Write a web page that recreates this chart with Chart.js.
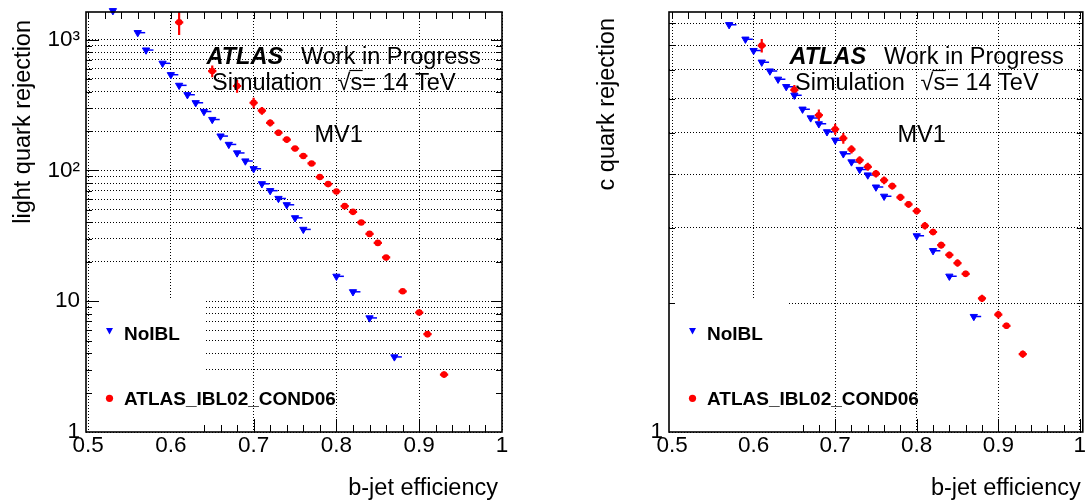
<!DOCTYPE html>
<html><head><meta charset="utf-8">
<script src="https://cdn.jsdelivr.net/npm/chart.js@4/dist/chart.umd.min.js"></script>
<style>
html,body{margin:0;padding:0;background:#fff;width:1088px;height:500px;overflow:hidden}
.p{position:absolute;top:0;width:544px;height:500px}
</style></head><body>
<div class="p" style="left:0"><canvas id="cL"></canvas></div>
<div class="p" style="left:544px"><canvas id="cR"></canvas></div>
<script>
// ---------------- data ----------------
const seriesNames = ['NoIBL', 'ATLAS_IBL02_COND06'];
const yTitles = ['light quark rejection', 'c quark rejection'];
const xTitle = 'b-jet efficiency';

// light-jet rejection, NoIBL
const effNoIBL_light = [0.53,0.56,0.57,0.59,0.60,0.61,0.62,0.63,0.64,0.65,0.66,0.67,0.68,0.69,0.70,0.71,0.72,0.73,0.74,0.75,0.76,0.80,0.82,0.84,0.87];
const rejNoIBL_light = [1663,1130,832,659,539,447,379,329,282,245,183,158,136,118,103,79,70,61,54.6,43.4,35.4,15.5,11.8,7.45,3.75];
// light-jet rejection, IBL
const effIBL = [0.61,0.65,0.68,0.70,0.71,0.72,0.73,0.74,0.75,0.76,0.77,0.78,0.79,0.80,0.81,0.82,0.83,0.84,0.85,0.86,0.88,0.90,0.91,0.93];
const rejIBL_light = [1356,575,442,329,286,231,194,172,147,129,113,89,78.6,69,53.3,48.2,40,32.7,27.9,21.6,11.9,8.2,5.6,2.75];
const errIBL_light = [270,60,50,30,20,14,11,9,7,6,5,4,3.5,3,2.4,2.1,1.8,1.5,1.2,1,0.5,0.4,0.3,0.15];
// c-jet rejection, NoIBL
const effNoIBL_c = [0.57,0.59,0.60,0.61,0.62,0.63,0.64,0.65,0.66,0.67,0.68,0.69,0.70,0.71,0.72,0.73,0.74,0.75,0.76,0.80,0.82,0.84,0.87];
const rejNoIBL_c = [8.93,8.26,7.77,7.30,6.96,6.66,6.40,6.11,5.67,5.41,5.24,5.02,4.80,4.46,4.27,4.10,3.98,3.73,3.55,2.87,2.65,2.31,1.86];
// c-jet rejection, IBL
const rejIBL_c = [7.98,6.29,5.49,5.09,4.85,4.57,4.31,4.16,4.01,3.87,3.75,3.53,3.40,3.28,3.03,2.93,2.73,2.59,2.48,2.34,2.05,1.88,1.77,1.52];
const errIBL_c = [0.29,0.17,0.17,0.15,0.14,0.10,0.09,0.09,0.08,0.08,0.07,0.07,0.06,0.06,0.06,0.05,0.05,0.05,0.05,0.04,0.04,0.04,0.03,0.03];

const xErrIBL = 0.005;      // half width of IBL efficiency bars
const xErrNoIBLHi = 0.009;  // NoIBL efficiency bar (right side)

// ticks
const xTickVals = [0.5,0.6,0.7,0.8,0.9,1.0];
const xTickLabels = ['0.5','0.6','0.7','0.8','0.9','1'];
const yLabelValsL = [1,10,100,1000];
const yLabelTextL = ['1','10','10\u00B2','10\u00B3'];
const yLabelValsR = [1];
const yLabelTextR = ['1'];

// ---------------- style ----------------
const FONT = '"Liberation Sans", Arial, Helvetica, sans-serif';
const BLUE = '#0000ff', RED = '#ff0000';

function logTicks(min, max){
  const out = [];
  for (let d = Math.floor(Math.log10(min)); d <= Math.ceil(Math.log10(max)); d++){
    for (let m = 1; m <= 9; m++){
      const v = +(m * Math.pow(10, d)).toPrecision(6);
      if (v >= min - 1e-9 && v <= max) out.push(v);
    }
  }
  return out;
}

const rootPlugin = {
  id: 'rootStyle',
  beforeDatasetsDraw(chart){
    const {ctx, chartArea:a, scales:{x, y}} = chart;
    ctx.save();
    ctx.beginPath(); ctx.rect(a.left, a.top, a.right - a.left, a.bottom - a.top); ctx.clip();
    chart.data.datasets.forEach(ds => {
      ctx.strokeStyle = ds.backgroundColor;
      ctx.lineWidth = ds.errWidth;
      ds.data.forEach((p, i) => {
        const px = x.getPixelForValue(p.x), py = y.getPixelForValue(p.y);
        ctx.beginPath();
        ctx.moveTo(x.getPixelForValue(p.x - ds.xErrLo), py);
        ctx.lineTo(x.getPixelForValue(p.x + ds.xErrHi), py);
        if (ds.yErr){
          const e = ds.yErr[i];
          ctx.moveTo(px, y.getPixelForValue(p.y + e));
          ctx.lineTo(px, y.getPixelForValue(Math.max(p.y - e, 1e-3)));
        }
        ctx.stroke();
      });
    });
    ctx.restore();
  },
  afterDatasetsDraw(chart, args, o){
    const {ctx, chartArea:a, scales:{x, y}} = chart;
    ctx.save();
    // legend box (white, hides grid)
    const boxL = a.left + 3, boxR = a.left + 118, boxT = 298;
    ctx.fillStyle = '#fff';
    ctx.fillRect(boxL, boxT, boxR - boxL, a.bottom - 1 - boxT);
    // frame
    ctx.strokeStyle = '#000'; ctx.lineWidth = 1.6;
    ctx.strokeRect(a.left, a.top, a.right - a.left, a.bottom - a.top);
    // y ticks (inside, both sides)
    ctx.lineWidth = 1;
    ctx.beginPath();
    y.ticks.forEach(t => {
      const py = Math.round(y.getPixelForValue(t.value)) + 0.5;
      const major = Math.abs(Math.log10(t.value) - Math.round(Math.log10(t.value))) < 1e-6;
      const lL = major ? 13 : 6, lR = major ? 11 : 6;
      if (py > a.bottom - 1 || py < a.top + 1) return;
      ctx.moveTo(a.left, py); ctx.lineTo(a.left + lL, py);
      ctx.moveTo(a.right, py); ctx.lineTo(a.right - lR, py);
    });
    // x ticks every 0.02, major each 0.1
    for (let k = 25; k <= 50; k++){
      const v = k * 0.02;
      const px = Math.round(x.getPixelForValue(v)) + 0.5;
      if (px < a.left + 1 || px > a.right - 1) continue;
      const major = k % 5 === 0;
      if (px > boxR){
        ctx.moveTo(px, a.bottom); ctx.lineTo(px, a.bottom - (major ? 13 : 7));
      }
      ctx.moveTo(px, a.top); ctx.lineTo(px, a.top + 7);
    }
    ctx.stroke();

    // ATLAS label
    ctx.fillStyle = '#000';
    ctx.textAlign = 'left'; ctx.textBaseline = 'alphabetic';
    ctx.font = 'italic bold 23.5px ' + FONT;
    ctx.fillText('ATLAS', a.left + 120.5, 63.5);
    ctx.font = '23.5px ' + FONT;
    ctx.fillText('Work in Progress', a.left + 215, 63.5);
    ctx.fillText('Simulation', a.left + 126, 90);
    const sx = a.left + 251.5;
    ctx.fillText('\u221As= 14 TeV', sx, 90);
    const w1 = ctx.measureText('\u221A').width, w2 = ctx.measureText('s').width;
    ctx.lineWidth = 1.2;
    ctx.beginPath(); ctx.moveTo(sx + w1 - 1, 70.5); ctx.lineTo(sx + w1 + w2 + 0.5, 70.5); ctx.stroke();
    ctx.fillText('MV1', a.left + 228.5, 142);

    // axis titles
    ctx.textAlign = 'right';
    ctx.fillText(o.xTitle, o.xTitleX, 495);
    ctx.save();
    ctx.translate(o.yTitleX, o.yTitleY);
    ctx.rotate(-Math.PI / 2);
    ctx.fillText(o.yTitle, 0, 0);
    ctx.restore();

    // legend entries
    const mx = a.left + 23.5;
    ctx.fillStyle = BLUE;
    ctx.beginPath();
    ctx.moveTo(mx - 3.5, 328); ctx.lineTo(mx + 3.5, 328); ctx.lineTo(mx, 334.5); ctx.closePath(); ctx.fill();
    ctx.fillStyle = RED;
    ctx.beginPath(); ctx.arc(mx, 398.3, 3.6, 0, Math.PI * 2); ctx.fill();
    ctx.fillStyle = '#000';
    ctx.textAlign = 'left';
    ctx.font = 'bold 19px ' + FONT;
    ctx.fillText(o.names[0], a.left + 38, 339.5);
    ctx.fillText(o.names[1], a.left + 38, 404.5);
    ctx.restore();
  }
};

function makeChart(id, p){
  const dsBlue = {
    label: seriesNames[0],
    data: p.effB.map((e, i) => ({x: e, y: p.rejB[i]})),
    backgroundColor: BLUE, borderColor: BLUE,
    pointBackgroundColor: BLUE, pointBorderColor: BLUE,
    pointStyle: 'triangle', pointRotation: 180, pointRadius: 4.2, pointBorderWidth: 1,
    showLine: false, clip: false,
    xErrLo: 0, xErrHi: xErrNoIBLHi, errWidth: 1.5
  };
  const dsRed = {
    label: seriesNames[1],
    data: effIBL.map((e, i) => ({x: e, y: p.rejR[i]})),
    backgroundColor: RED, borderColor: RED,
    pointBackgroundColor: RED, pointBorderColor: RED,
    pointStyle: 'circle', pointRadius: 3.3, pointBorderWidth: 0,
    showLine: false, clip: false,
    xErrLo: xErrIBL, xErrHi: xErrIBL, yErr: p.errR, errWidth: 2.2
  };
  return new Chart(document.getElementById(id), {
    type: 'scatter',
    data: {datasets: [dsBlue, dsRed]},
    plugins: [rootPlugin],
    options: {
      responsive: true, maintainAspectRatio: false, animation: false,
      events: [],
      layout: {padding: {top: 12, right: p.padR, left: 0, bottom: 0}},
      plugins: {
        legend: {display: false}, tooltip: {enabled: false},
        rootStyle: {xTitle: xTitle, xTitleX: p.xTitleX, yTitle: p.yTitle, yTitleX: p.yTitleX, yTitleY: p.yTitleY, names: seriesNames}
      },
      scales: {
        x: {
          type: 'linear', min: p.xMin, max: p.xMax,
          afterBuildTicks: s => { s.ticks = xTickVals.map(v => ({value: v})); },
          afterFit: s => { s.height = 500 - p.bottom; s.paddingLeft = 0; s.paddingRight = 0; },
          grid: {color: '#000', lineWidth: 1, drawTicks: false},
          border: {display: false, dash: [1, 2]},
          ticks: {autoSkip: false, maxRotation: 0, padding: 0, color: '#000',
                  font: {family: FONT, size: 22.5},
                  callback: (v, i) => xTickLabels[i]}
        },
        y: {
          type: 'logarithmic', min: 1, max: p.yMax,
          afterBuildTicks: s => { s.ticks = logTicks(1, p.yMax).map(v => ({value: v})); },
          afterFit: s => { s.width = p.left; s.paddingTop = 0; s.paddingBottom = 0; },
          grid: {lineWidth: 1, drawTicks: false,
                 color: c => (c.tick && p.skipGrid.includes(c.tick.value)) ? 'rgba(0,0,0,0)' : '#000'},
          border: {display: false, dash: [1, 2]},
          ticks: {autoSkip: false, padding: 6, color: '#000',
                  font: {family: FONT, size: 22.5},
                  callback: v => { const k = p.labVals.indexOf(+v); return k >= 0 ? p.labTxt[k] : ''; }}
        }
      }
    }
  });
}

makeChart('cL', {
  effB: effNoIBL_light, rejB: rejNoIBL_light, rejR: rejIBL_light, errR: errIBL_light,
  xMin: 0.4975, xMax: 1.0, yMax: 1626, left: 86, bottom: 432, padR: 544 - 502,
  labVals: yLabelValsL, labTxt: yLabelTextL, skipGrid: [2],
  yTitle: yTitles[0], yTitleX: 30, yTitleY: 20, xTitleX: 498
});
makeChart('cR', {
  effB: effNoIBL_c, rejB: rejNoIBL_c, rejR: rejIBL_c, errR: errIBL_c,
  xMin: 0.4963, xMax: 1.0036, yMax: 9.56, left: 125, bottom: 432, padR: 1,
  labVals: yLabelValsR, labTxt: yLabelTextR, skipGrid: [],
  yTitle: yTitles[1], yTitleX: 70, yTitleY: 18, xTitleX: 536.7
});
</script>
</body></html>
